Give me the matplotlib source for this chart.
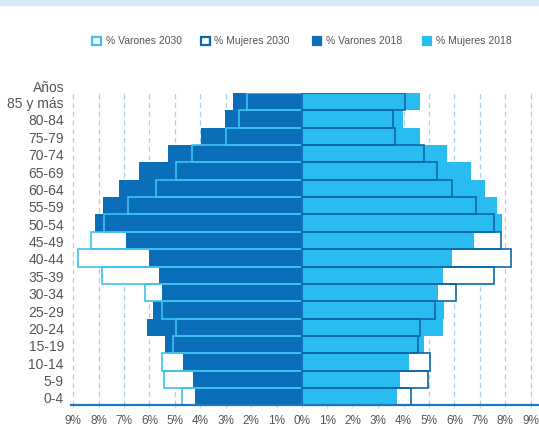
import matplotlib.pyplot as plt
from matplotlib.patches import Rectangle

plt.rcParams['font.family'] = ['Liberation Sans', 'DejaVu Sans']

# grupos de edad (de abajo hacia arriba)
grupos = ['0-4', '5-9', '10-14', '15-19', '20-24', '25-29', '30-34', '35-39',
          '40-44', '45-49', '50-54', '55-59', '60-64', '65-69', '70-74',
          '75-79', '80-84', '85 y más']

varones_2018 = [4.21, 4.29, 4.69, 5.39, 6.10, 5.87, 5.51, 5.63, 6.00, 6.94,
                8.15, 7.83, 7.20, 6.42, 5.28, 3.98, 3.03, 2.73]
mujeres_2018 = [3.74, 3.86, 4.21, 4.80, 5.55, 5.59, 5.35, 5.55, 5.91, 6.77,
                7.87, 7.68, 7.20, 6.65, 5.70, 4.65, 3.99, 4.65]
varones_2030 = [4.71, 5.43, 5.49, 5.09, 4.96, 5.49, 6.17, 7.85, 8.81, 8.29,
                7.78, 6.84, 5.76, 4.96, 4.33, 2.97, 2.48, 2.15]
mujeres_2030 = [4.30, 4.97, 5.03, 4.58, 4.66, 5.25, 6.06, 7.56, 8.23, 7.83,
                7.56, 6.86, 5.91, 5.33, 4.82, 3.66, 3.58, 4.06]

ticks = list(range(-9, 10))
tick_labels = [f'{abs(t)}%' for t in ticks]

AZUL = '#0a6fb8'
CELESTE = '#29bdef'
BORDE_V30 = '#3cc2f0'
BORDE_M30 = '#0b68ad'
GRIS = '#555555'

fig = plt.figure(figsize=(5.39, 4.27), dpi=100)
# franja superior
fig.patches.append(Rectangle((0, 1 - 5.5 / 427), 1, 5.5 / 427, transform=fig.transFigure,
                             color='#d5edf5', zorder=0))

ax = fig.add_axes([70.7 / 539, 21.3 / 427, 468.3 / 539, 311.8 / 427])
y = list(range(len(grupos)))
h = 1.0

neg_v30 = [-v for v in varones_2030]
neg_v18 = [-v for v in varones_2018]

# fondo blanco de 2030
ax.barh(y, neg_v30, height=h, color='white', zorder=2)
ax.barh(y, mujeres_2030, height=h, color='white', zorder=2)
# 2018 relleno
ax.barh(y, neg_v18, height=h, color=AZUL, zorder=3)
ax.barh(y, mujeres_2018, height=h, color=CELESTE, zorder=3)
# contorno 2030 encima
ax.barh(y, neg_v30, height=h, fill=False, edgecolor=BORDE_V30, linewidth=1.2, zorder=4)
ax.barh(y, mujeres_2030, height=h, fill=False, edgecolor=BORDE_M30, linewidth=1.2, zorder=4)

ax.set_xlim(-9.1, 9.33)
ax.set_ylim(-0.45, 17.5)

for t in ticks:
    if t != 0:
        ax.axvline(t, color='#a9cfe9', linestyle=(0, (4, 3)), linewidth=0.9, zorder=1)

for s in ['top', 'right', 'left']:
    ax.spines[s].set_visible(False)
ax.spines['bottom'].set_color('#1a78c2')
ax.spines['bottom'].set_linewidth(1.6)
ax.spines['bottom'].set_zorder(5)

ax.set_xticks(ticks)
ax.set_xticklabels(tick_labels, fontsize=8.5, color=GRIS)
ax.tick_params(axis='x', length=2, color='#c8dcec', pad=5)
ax.set_yticks(y)
ax.set_yticklabels(grupos, fontsize=10, color=GRIS)
ax.tick_params(axis='y', length=0, pad=5)
ax.text(-0.012, 17.85, 'Años', transform=ax.get_yaxis_transform(), ha='right', va='center',
        fontsize=10, color=GRIS)

# leyenda
items = [(92.3, 'white', BORDE_V30, '% Varones 2030'),
         (201.0, 'white', BORDE_M30, '% Mujeres 2030'),
         (312.7, AZUL, AZUL, '% Varones 2018'),
         (422.7, CELESTE, CELESTE, '% Mujeres 2018')]
for x0, fc, ec, txt in items:
    fig.patches.append(Rectangle((x0 / 539, 1 - 46 / 427), 8.5 / 539, 8.5 / 427,
                                 transform=fig.transFigure, facecolor=fc, edgecolor=ec,
                                 linewidth=1.6))
    fig.text((x0 + 13.5) / 539, 1 - 41.5 / 427, txt, fontsize=7.5, color=GRIS,
             ha='left', va='center')

fig.savefig('out.png', dpi=100)
